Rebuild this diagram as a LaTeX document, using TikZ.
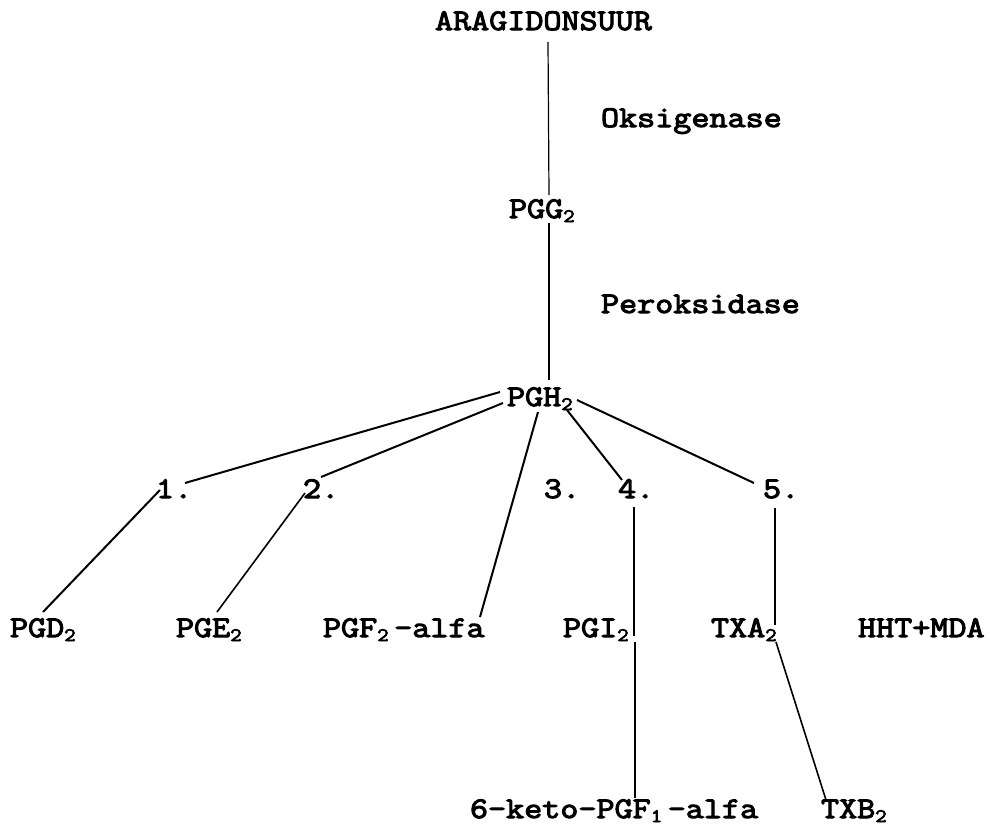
\documentclass[tikz,border=0pt]{standalone}
\usepackage{fontspec}
\newfontfamily\twfont{Latin Modern Mono}[FakeStretch=1.17,FakeBold=3.5]
\newcommand\lowsub[1]{\makebox[17pt][l]{\raisebox{-4pt}{\fontsize{19}{19}\selectfont #1}}}
\begin{document}
\begin{tikzpicture}[x=1pt,y=-1pt,
  lbl/.style={anchor=base west,inner sep=0pt,outer sep=0pt,font=\twfont\fontsize{30}{30}\selectfont},
  thin/.style={line width=1.2pt},
  thick/.style={line width=2pt}]
\useasboundingbox (0,0) rectangle (990,827);
% nodes
\node[lbl] (ara) at (435,30) {ARAGIDONSUUR};
\node[lbl] (oks) at (601,127) {Oksigenase};
\node[lbl] (pgg) at (509,218) {PGG\lowsub{2}};
\node[lbl] (per) at (601,313) {Peroksidase};
\node[lbl] (pgh) at (507,406) {PGH\lowsub{2}};
\node[lbl] (n1) at (156,498) {1.};
\node[lbl] (n2) at (303,498) {2.};
\node[lbl] (n3) at (544,498) {3.};
\node[lbl] (n4) at (618,498) {4.};
\node[lbl] (n5) at (763,498) {5.};
\node[lbl] (pgd) at (10,637) {PGD\lowsub{2}};
\node[lbl] (pge) at (176,637) {PGE\lowsub{2}};
\node[lbl] (pgf) at (323,637) {PGF\lowsub{2}-alfa};
\node[lbl] (pgi) at (563,637) {PGI\lowsub{2}};
\node[lbl] (txa) at (711,637) {TXA\lowsub{2}};
\node[lbl] (hht) at (858,637) {HHT+MDA};
\node[lbl] (keto) at (470,818) {6-keto-PGF\lowsub{1}-alfa};
\node[lbl] (txb) at (821,818) {TXB\lowsub{2}};
% connectors
\draw[thin] ([shift={(113,12)}]ara.base west) -- ([shift={(40,-23)}]pgg.base west);
\draw[thin] ([shift={(40,5)}]pgg.base west) -- ([shift={(42,-26)}]pgh.base west);
\draw[thick] ([shift={(-7,-14)}]pgh.base west) -- ([shift={(29,-15)}]n1.base west);
\draw[thick] ([shift={(-4,-3)}]pgh.base west) -- ([shift={(18,-21)}]n2.base west);
\draw[thick] ([shift={(31,6)}]pgh.base west) -- ([shift={(157,-20)}]pgf.base west);
\draw[thick] ([shift={(60,4)}]pgh.base west) -- ([shift={(4,-18)}]n4.base west);
\draw[thick] ([shift={(70,-6)}]pgh.base west) -- ([shift={(-9,-15)}]n5.base west);
\draw[thick] ([shift={(4,-8)}]n1.base west) -- ([shift={(33,-25)}]pgd.base west);
\draw[line width=1.6pt] ([shift={(2,-5)}]n2.base west) -- ([shift={(41,-25)}]pge.base west);
\draw[thin] ([shift={(16,9)}]n4.base west) -- ([shift={(71,-1)}]pgi.base west);
\draw[thin] ([shift={(12,10)}]n5.base west) -- ([shift={(64,-12)}]txa.base west);
\draw[thin] ([shift={(72,5)}]pgi.base west) -- ([shift={(165,-20)}]keto.base west);
\draw[line width=1.6pt] ([shift={(65,5)}]txa.base west) -- ([shift={(5,-18)}]txb.base west);
\end{tikzpicture}
\end{document}
